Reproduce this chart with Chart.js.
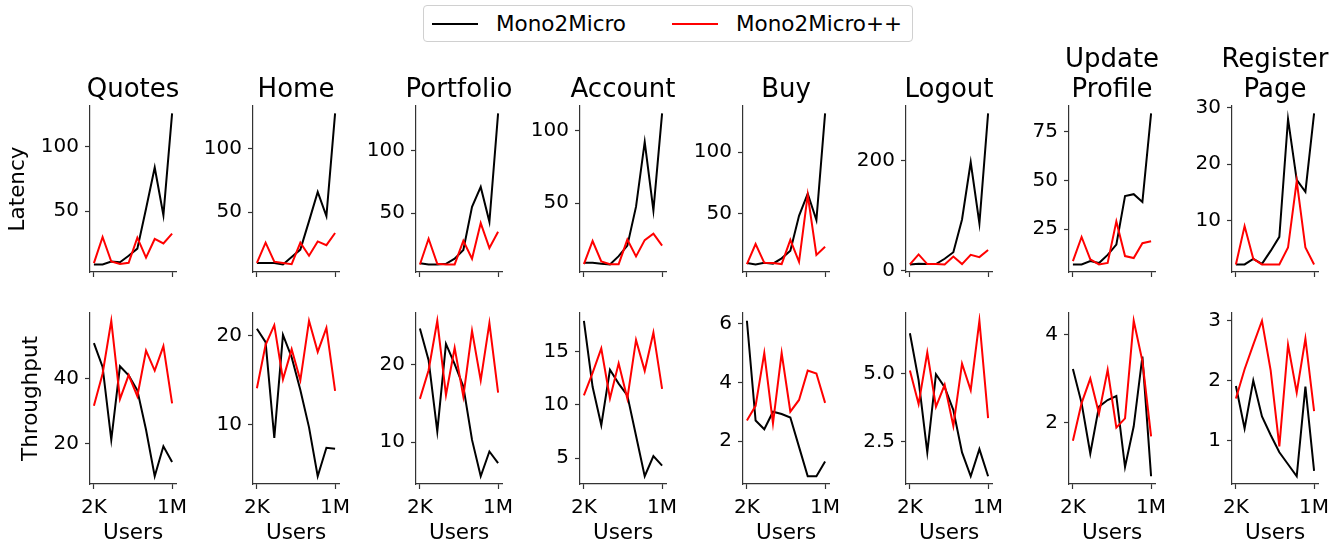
<!DOCTYPE html>
<html>
<head>
<meta charset="utf-8">
<script src="https://cdn.jsdelivr.net/npm/chart.js@4.4.1/dist/chart.umd.min.js"></script>
<style>
  body { margin: 0; background: #fff; width: 1343px; height: 546px; position: relative; overflow: hidden; font-family: 'DejaVu Sans', sans-serif; }
  canvas { position: absolute; }
  #legend { position: absolute; left: 423px; top: 5px; width: 490px; height: 37px; border: 1px solid #d0d0d0; border-radius: 4px; box-sizing: border-box; }
  #legend .sw { position: absolute; top: 17px; width: 46px; height: 2px; }
  #legend .lb { position: absolute; top: 5px; font-size: 21.5px; line-height: 26px; color: #000; white-space: nowrap; }
</style>
</head>
<body>
<div id="legend">
  <div class="sw" style="left: 8px; background: #000;"></div>
  <div class="lb" style="left: 72px;">Mono2Micro</div>
  <div class="sw" style="left: 248px; background: #ff0000;"></div>
  <div class="lb" style="left: 312px;">Mono2Micro++</div>
</div>
<script>
// page titles (one column each)
const pages = ['Quotes', 'Home', 'Portfolio', 'Account', 'Buy', 'Logout', ['Update', 'Profile'], ['Register', 'Page']];
const xTickLabels = ['2K', '1M'];

// latency, 10 user levels from 2K to 1M
const latencyMono2Micro = [
  [8.7, 8.7, 11, 10.4, 15.4, 21, 52, 84, 47, 126],
  [10, 10, 10, 8.8, 14.6, 20.5, 43, 66, 47, 128],
  [9.8, 8.8, 8.8, 9.3, 13.4, 20.4, 55, 71, 43, 130],
  [9, 9, 8.3, 7.9, 13.6, 20.8, 47.6, 92, 45, 111.6],
  [9.4, 8.3, 9.6, 8.9, 13.3, 19.5, 48, 66, 44.5, 131.5],
  [11.7, 12.9, 12.3, 12.3, 22, 34, 93.6, 197.7, 86.5, 286.5],
  [6.9, 6.9, 8.6, 7.6, 11.8, 17.1, 42, 43, 39, 84.5],
  [2.2, 2.2, 3.2, 2.3, 4.6, 7.1, 28, 17.2, 15.1, 29]
];
const latencyMono2MicroPP = [
  [9.7, 30, 11, 9, 10, 29.5, 14, 28.5, 25, 32.7],
  [10, 26, 11, 10, 9, 26, 15.7, 27, 24, 33.6],
  [8.8, 29.4, 9.3, 8.8, 8.8, 27.8, 13.4, 42, 22, 35],
  [8.1, 24, 10, 8.1, 8.1, 25, 13.4, 24.6, 29, 20.8],
  [8.6, 25, 9.6, 9.4, 8.6, 28.4, 10.4, 65, 16, 22.7],
  [11.7, 30, 12.3, 12.3, 11.7, 26, 12.3, 29.2, 25, 38],
  [8.6, 21, 9.5, 6.9, 7.7, 29, 11.2, 10.2, 17.8, 18.8],
  [2.2, 9, 3.2, 2.2, 2.2, 2.2, 5.2, 17, 5.2, 2.2]
];

// throughput
const throughputMono2Micro = [
  [50.9, 43.6, 21.2, 43.8, 41, 36.4, 24.3, 10, 19.2, 14.4],
  [20.8, 19.3, 8.5, 20.1, 17.6, 13.9, 9.7, 4.2, 7.4, 7.3],
  [24.7, 20.6, 11.4, 22.7, 20.1, 17.2, 10.3, 5.6, 8.8, 7.3],
  [17.9, 11.7, 8.1, 13.3, 12, 10.9, 7.1, 3.3, 5.2, 4.3],
  [6.1, 2.7, 2.4, 3.0, 2.92, 2.8, 1.8, 0.8, 0.8, 1.3],
  [6.49, 4.76, 2.1, 4.98, 4.5, 3.66, 2.1, 1.22, 2.22, 1.22],
  [3.22, 2.44, 1.29, 2.36, 2.51, 2.6, 0.98, 1.91, 3.5, 0.77],
  [1.91, 1.2, 2.0, 1.4, 1.09, 0.8, 0.6, 0.4, 1.9, 0.49]
];
const throughputMono2MicroPP = [
  [31.7, 41.5, 57.8, 33.7, 41.1, 34.6, 48.6, 42.5, 50, 32.4],
  [14.1, 19, 21.2, 15.1, 18.5, 15, 21.7, 18.2, 20.9, 13.8],
  [15.6, 19.3, 25.7, 16.1, 22.2, 15.9, 24.4, 18, 25.4, 16.4],
  [10.9, 13, 15.3, 10.6, 13.9, 10.6, 16.1, 13.2, 16.8, 11.5],
  [2.7, 3.2, 5.0, 2.6, 5.0, 3.0, 3.4, 4.4, 4.3, 3.3],
  [5.12, 3.88, 5.78, 3.78, 4.59, 3.07, 5.37, 4.39, 6.95, 3.36],
  [1.58, 2.44, 3.0, 2.2, 3.2, 1.88, 2.09, 4.32, 3.4, 1.68],
  [1.7, 2.19, 2.6, 3.0, 2.17, 0.9, 2.6, 1.8, 2.7, 1.49]
];

// y tick labels per panel
const latencyTicks = [['50', '100'], ['50', '100'], ['50', '100'], ['50', '100'], ['50', '100'], ['0', '200'], ['25', '50', '75'], ['10', '20', '30']];
const throughputTicks = [['20', '40'], ['10', '20'], ['10', '20'], ['5', '10', '15'], ['2', '4', '6'], ['2.5', '5.0'], ['2', '4'], ['1', '2', '3']];

Chart.defaults.font.family = "'DejaVu Sans', sans-serif";
Chart.defaults.color = '#000';

const PLOT_W = 86;
const AXIS = '#333';

function makePanel(row, col) {
  const top = row === 0;
  const mono = top ? latencyMono2Micro[col] : throughputMono2Micro[col];
  const plus = top ? latencyMono2MicroPP[col] : throughputMono2MicroPP[col];
  const tickLabels = top ? latencyTicks[col] : throughputTicks[col];

  const all = mono.concat(plus);
  const lo = Math.min(...all), hi = Math.max(...all);
  const margin = (hi - lo) * 0.05;

  // canvas is symmetric round the plot so the title centres over it
  const plotLeft = 90 + col * 163.2;
  let yw = 70;
  if (col === 0) yw = top ? 84 : 71;
  const left = plotLeft - yw;
  const width = yw + PLOT_W + yw;
  const height = top ? 290 : 256;
  const xh = top ? 13 : 62;
  const twoLine = Array.isArray(pages[col]);

  const cv = document.createElement('canvas');
  cv.width = width;
  cv.height = height;
  cv.style.left = left + 'px';
  cv.style.top = (top ? 0 : 290) + 'px';
  cv.style.width = width + 'px';
  cv.style.height = height + 'px';
  document.body.appendChild(cv);

  new Chart(cv.getContext('2d'), {
    type: 'line',
    data: {
      datasets: [
        { label: 'Mono2Micro', data: mono.map((v, i) => ({ x: i, y: v })), borderColor: '#000', borderWidth: 2, pointRadius: 0, order: 1 },
        { label: 'Mono2Micro++', data: plus.map((v, i) => ({ x: i, y: v })), borderColor: '#ff0000', borderWidth: 2, pointRadius: 0, order: 0 }
      ]
    },
    options: {
      responsive: false,
      animation: false,
      layout: { padding: { top: top ? 0 : 23, right: 0, left: 0, bottom: 0 } },
      plugins: {
        legend: { display: false },
        tooltip: { enabled: false },
        title: {
          display: top,
          text: pages[col],
          font: { size: 26, weight: 'normal', lineHeight: 1.15 },
          color: '#000',
          padding: { top: twoLine ? 45 : 75, bottom: 1 }
        }
      },
      scales: {
        x: {
          type: 'linear',
          min: -0.45,
          max: 9.45,
          afterBuildTicks: s => { s.ticks = [{ value: 0 }, { value: 9 }]; },
          afterFit: s => { s.height = xh; s.paddingRight = yw; },
          ticks: {
            callback: (v, i) => top ? '' : xTickLabels[i],
            autoSkip: false,
            maxRotation: 0,
            font: { size: 20 },
            color: '#000',
            padding: 7
          },
          grid: { drawOnChartArea: false, tickLength: 5, tickColor: AXIS, tickWidth: 1.2 },
          border: { color: AXIS, width: 1.2 },
          title: { display: !top, text: 'Users', font: { size: 21.5 }, color: '#000', padding: 0 }
        },
        y: {
          type: 'linear',
          min: lo - margin,
          max: hi + margin,
          afterBuildTicks: s => { s.ticks = tickLabels.map(t => ({ value: parseFloat(t) })); },
          afterFit: s => { s.width = yw; },
          ticks: {
            callback: (v, i) => tickLabels[i],
            autoSkip: false,
            font: { size: 20 },
            color: '#000',
            padding: 6
          },
          grid: { drawOnChartArea: false, tickLength: 5, tickColor: AXIS, tickWidth: 1.2 },
          border: { color: AXIS, width: 1.2 },
          title: { display: col === 0, text: top ? 'Latency' : 'Throughput', font: { size: 21.5 }, color: '#000', padding: 0 }
        }
      }
    }
  });
}

for (let r = 0; r < 2; r++) {
  for (let c = 0; c < pages.length; c++) makePanel(r, c);
}
</script>
</body>
</html>
